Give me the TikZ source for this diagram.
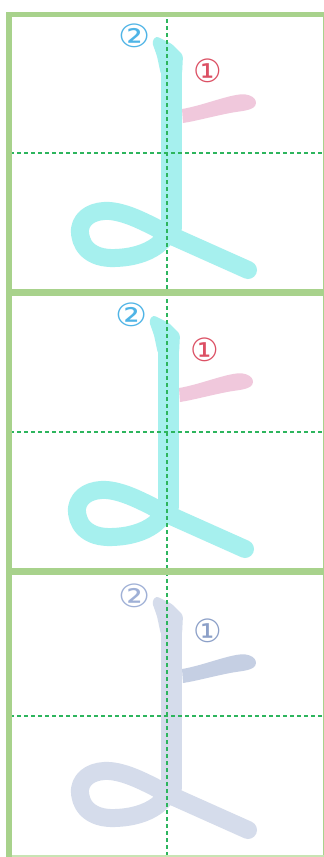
\documentclass[tikz,border=0pt]{standalone}
\usepackage{fontspec}
\newfontfamily\circfont{DejaVu Sans}
\definecolor{gborder}{HTML}{A8D28C}
\definecolor{gborderlt}{HTML}{C8E4B4}
\definecolor{gdash}{HTML}{2DB55D}
\definecolor{cyanS}{HTML}{A6F0EE}
\definecolor{pinkS}{HTML}{F0C8DC}
\definecolor{blueL}{HTML}{4FB4E6}
\definecolor{redL}{HTML}{DC5064}
\definecolor{greyS}{HTML}{D5DCEB}
\definecolor{greyT}{HTML}{C5CFE3}
\definecolor{greyL}{HTML}{8CA0C8}
\definecolor{greyM}{HTML}{9FB0D6}
\tikzset{
  kanalabel/.style={inner sep=0pt, font=\circfont\fontsize{32}{32}\selectfont},
  gridline/.style={gdash, line width=1.1pt, dash pattern=on 4pt off 3pt},
  bar/.style={fill=gborder},
}
\newcommand{\yopanel}[7]{%
  \begin{scope}[shift={(#1,#2)}]
    \fill[#4] (182,109) .. controls (200,106) and (220,98) .. (236,95)
      .. controls (250,92) and (259,99) .. (255,106)
      .. controls (251,111) and (240,111) .. (230,113)
      .. controls (210,117) and (196,121) .. (183,123) -- cycle;
    \fill[#3, rounded corners=3pt] (152,42) -- (156,36) -- (172,44) -- (183,55) -- (182,75) -- (161,75) -- (157,56) -- cycle;
    \draw[#3, line width=21pt, line cap=round] (171,62) -- (171,228);
    \draw[#3, line width=18pt, line cap=round, line join=round]
      (171,220) .. controls (171,240) and (150,257) .. (115,258)
      .. controls (90,259) and (79,245) .. (80,229)
      .. controls (82,216) and (95,210) .. (110,211)
      .. controls (130,213) and (150,225) .. (172,236) -- (248,270);
    \node[kanalabel, text=#5, xscale=1.12] (two#7) at (135,36) {②};
    \node[kanalabel, text=#6] (one#7) at (208,71) {①};
  \end{scope}}
\begin{document}
\begin{tikzpicture}[x=1pt,y=-1pt]
  \useasboundingbox (0,0) rectangle (324,857);
  \fill[white] (0,0) rectangle (324,857);
  \yopanel{0}{0}{cyanS}{pinkS}{blueL}{redL}{A}
  \yopanel{-3}{279}{cyanS}{pinkS}{blueL}{redL}{B}
  \yopanel{0}{560}{greyS}{greyT}{greyM}{greyL}{C}
  % grid lines
  \draw[gridline] (167,12) -- (167,857);
  \draw[gridline] (10,153) -- (324,153);
  \draw[gridline] (10,432) -- (324,432);
  \draw[gridline] (10,716) -- (324,716);
  % frames
  \fill[bar] (6,12) rectangle (324,17);
  \fill[bar] (6,289) rectangle (324,296);
  \fill[bar] (6,568) rectangle (324,575);
  \fill[bar] (6,12) rectangle (12,857);
  \draw[gborder, line width=1pt] (323,16) -- (323,857);
  \draw[gborderlt, line width=1.2pt] (12,856) -- (324,856);
\end{tikzpicture}
\end{document}
